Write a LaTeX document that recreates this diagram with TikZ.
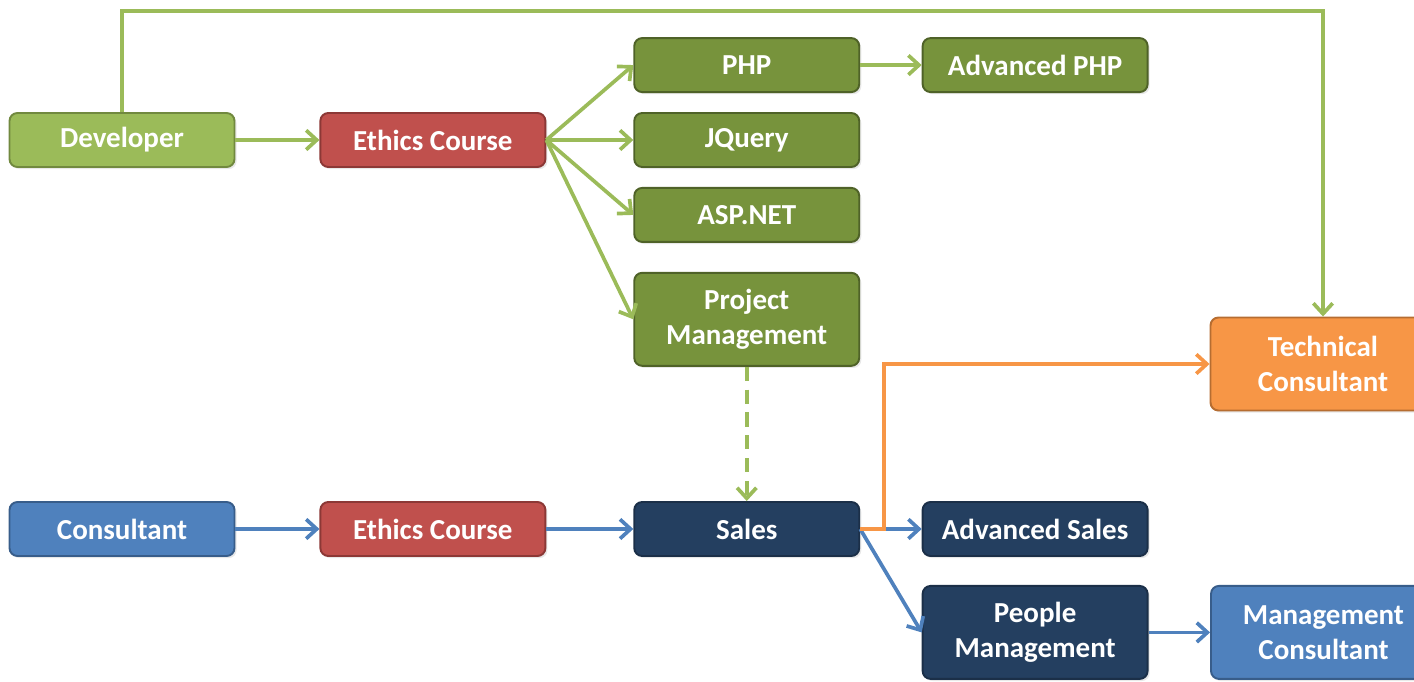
\documentclass[tikz,border=0pt]{standalone}
\usepackage{fontspec}
\setmainfont{Carlito}
\usetikzlibrary{arrows.meta, positioning, shadows}
\definecolor{leafA}{HTML}{9BBB59}
\definecolor{leafD}{HTML}{71893F}
\definecolor{oliveA}{HTML}{77933C}
\definecolor{oliveD}{HTML}{4F6228}
\definecolor{brickA}{HTML}{C0504D}
\definecolor{brickD}{HTML}{8C3836}
\definecolor{navyA}{HTML}{243F60}
\definecolor{navyD}{HTML}{1B2F48}
\definecolor{skyA}{HTML}{4F81BD}
\definecolor{skyD}{HTML}{385D8A}
\definecolor{tanA}{HTML}{F79646}
\definecolor{tanD}{HTML}{B66D31}

\begin{document}
\begin{tikzpicture}[
  x=0.02cm, y=-0.02cm,
  course/.style={
    fill=#1A, draw=#1D,
    text=white, font=\fontsize{16.5}{20}\selectfont\bfseries,
    minimum width=4.5cm, minimum height=1.08cm,
    align=center, rounded corners=4.5pt,
    line width=1.1pt,
    drop shadow={shadow xshift=1.2pt, shadow yshift=-1.2pt, opacity=.18}
  },
  tallcourse/.style={course=#1, minimum height=1.86cm},
  garr/.style={-{Straight Barb[length=6pt, width=11pt]}, line width=2.1pt, leafA},
  barr/.style={-{Straight Barb[length=6pt, width=11pt]}, line width=2.1pt, skyA},
  oarr/.style={-{Straight Barb[length=6pt, width=11pt]}, line width=2.1pt, tanA},
  node distance=1.68cm
]
\useasboundingbox (0,0) rectangle (1414,682);

%% --- developer track ---
\node[course=leaf] (dev) at (122,140) {Developer};
\node[course=brick, right=of dev] (ethicsA) {Ethics Course};
\node[course=olive, right=1.74cm of ethicsA] (jquery) {JQuery};
\node[course=olive, above=0.38cm of jquery] (php) {PHP};
\node[course=olive, below=0.38cm of jquery] (aspnet) {ASP.NET};
\node[tallcourse=olive, below=0.58cm of aspnet] (projman)
  {Project\\Management};
\node[course=olive, right=1.23cm of php] (advphp) {Advanced PHP};

\draw[garr] (dev) -- (ethicsA);
\foreach \t in {php, jquery, aspnet, projman}
  \draw[garr] (ethicsA.east) -- (\t.west);
\draw[garr] (php) -- (advphp);

%% --- consultant track ---
\node[course=sky] (cons) at (122,529) {Consultant};
\node[course=brick, right=of cons] (ethicsB) {Ethics Course};
\node[course=navy, right=1.74cm of ethicsB] (sales) {Sales};
\node[course=navy, right=1.23cm of sales] (advsales) {Advanced Sales};
\node[tallcourse=navy, below=0.56cm of advsales] (peopleman) {People\\Management};
\node[tallcourse=sky, right=1.23cm of peopleman] (mancons) {Management\\Consultant};
\node[tallcourse=tan] (techcons) at (1323,364) {Technical\\Consultant};

\draw[barr] (cons) -- (ethicsB);
\draw[barr] (ethicsB) -- (sales);
\draw[barr] (sales) -- (advsales);
\draw[barr] (sales.east) -- (peopleman.west);
\draw[barr] (peopleman) -- (mancons);

%% --- cross links ---
\draw[garr, dash pattern=on 8pt off 5pt] (projman) -- (sales);
\draw[oarr] (sales.east) -- ++(24,0) |- (techcons.west);
\draw[garr] (dev.north) -- ++(0,-101) -| (techcons.north);

\end{tikzpicture}
\end{document}
